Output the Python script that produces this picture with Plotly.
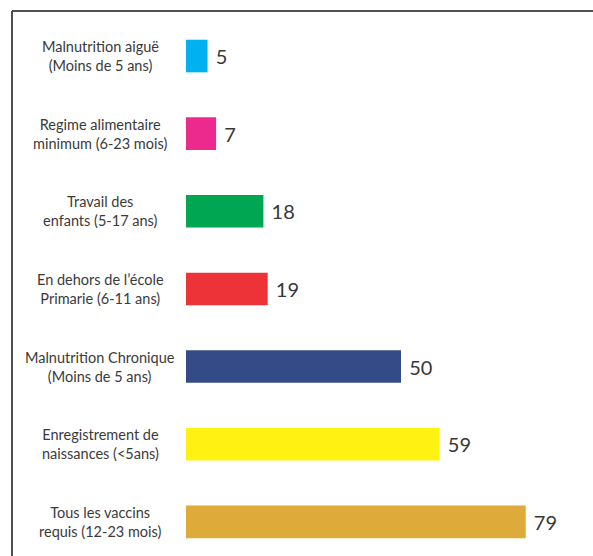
import plotly.graph_objects as go

categories = [
    "Malnutrition aiguë<br>(Moins de 5 ans)",
    "Regime alimentaire<br>minimum (6-23 mois)",
    "Travail des<br>enfants (5-17 ans)",
    "En dehors de l\u2019école<br>Primarie (6-11 ans)",
    "Malnutrition Chronique<br>(Moins de 5 ans)",
    "Enregistrement de<br>naissances (<5ans)",
    "Tous les vaccins<br>requis (12-23 mois)",
]
values = [5, 7, 18, 19, 50, 59, 79]
colors = ["#00B0F0", "#EC2A8E", "#00A651", "#EE3338", "#344B87", "#FFF212", "#DEAA3A"]

W, H = 593, 556
ML, MR, MT, MB = 186, 10, 11, 0
PW = W - ML - MR
PH = H - MT - MB

fig = go.Figure()
fig.add_trace(go.Bar(
    y=list(range(len(categories))),
    x=values,
    orientation="h",
    marker=dict(color=colors, line=dict(width=0)),
    width=0.42,
    text=[f" {v}" for v in values],
    textposition="outside",
    cliponaxis=False,
    textfont=dict(family="Lato", size=20, color="#383838"),
    hoverinfo="skip",
))

for i, c in enumerate(categories):
    fig.add_annotation(
        x=(100 - ML) / PW, xref="paper", y=i, yref="y",
        text=c, showarrow=False, align="center", xanchor="center", yanchor="middle",
        font=dict(family="Lato", size=14.5, color="#3a3a3a"),
    )

lx = (12 - ML) / PW
fig.add_shape(type="line", xref="paper", yref="paper", x0=lx, x1=(W - ML) / PW, y0=1, y1=1,
              line=dict(color="#505050", width=2))
fig.add_shape(type="line", xref="paper", yref="paper", x0=lx, x1=lx, y0=1, y1=-0.05,
              line=dict(color="#505050", width=2))

fig.update_layout(
    width=W, height=H,
    margin=dict(l=ML, r=MR, t=MT, b=MB),
    paper_bgcolor="white", plot_bgcolor="white",
    showlegend=False,
    hovermode=False,
    xaxis=dict(range=[0, PW / 4.3], visible=False, fixedrange=True),
    yaxis=dict(range=[6.44, -0.58], visible=False, fixedrange=True),
)

fig.write_html("out.html", config={"displayModeBar": False},
               post_script="document.body.style.margin='0';document.body.style.overflow='hidden';")
